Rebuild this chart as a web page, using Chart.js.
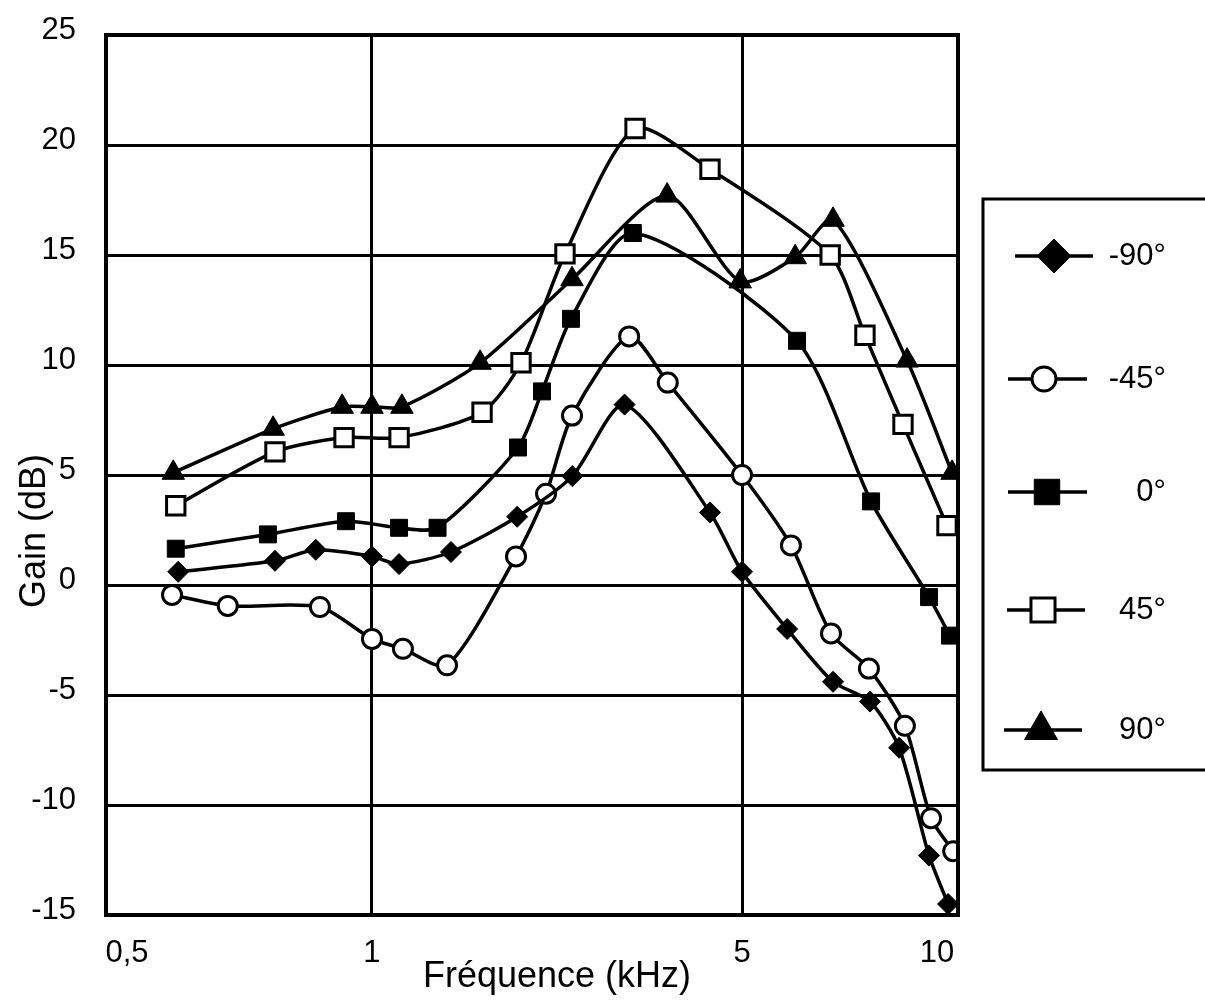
<!DOCTYPE html>
<html lang="fr">
<head>
<meta charset="utf-8">
<title>Gain en fonction de la fréquence</title>
<script src="https://cdn.jsdelivr.net/npm/chart.js@4.4.1/dist/chart.umd.min.js"></script>
<style>
    html, body { margin: 0; padding: 0; background: #fff; }
    #wrap { width: 1205px; height: 1001px; }
</style>
</head>
<body>
<div id="wrap"><canvas id="gainChart" width="1205" height="1001"></canvas></div>
<script>
// --- Données (fréquence en kHz, gain en dB) ---
const freqM90 = [0.578, 0.76, 0.853, 1.0, 1.125, 1.41, 1.88, 2.39, 3.0, 4.35, 5.0, 5.87, 6.91, 7.88, 8.74, 9.72, 10.4];
const gainM90 = [0.6, 1.1, 1.6, 1.3, 0.95, 1.5, 3.1, 4.95, 8.2, 3.3, 0.6, -2.0, -4.4, -5.3, -7.4, -12.3, -14.5];

const freqM45 = [0.568, 0.665, 0.863, 1.0, 1.144, 1.386, 1.871, 2.132, 2.387, 3.06, 3.62, 5.0, 5.95, 6.86, 7.85, 8.92, 9.79, 10.59];
const gainM45 = [-0.45, -0.95, -1.0, -2.45, -2.9, -3.65, 1.3, 4.15, 7.7, 11.3, 9.2, 5.0, 1.8, -2.2, -3.8, -6.4, -10.6, -12.1];

const freq0 = [0.574, 0.745, 0.929, 1.125, 1.33, 1.887, 2.095, 2.376, 3.11, 6.08, 7.91, 9.72, 10.47];
const gain0 = [1.65, 2.3, 2.9, 2.6, 2.6, 6.25, 8.8, 12.1, 16.0, 11.1, 3.8, -0.55, -2.3];

const freqP45 = [0.574, 0.76, 0.924, 1.125, 1.614, 1.912, 2.315, 3.14, 4.35, 6.84, 7.74, 8.86, 10.36];
const gainP45 = [3.6, 6.05, 6.7, 6.7, 7.85, 10.1, 15.05, 20.75, 18.9, 15.0, 11.35, 7.3, 2.7];

const freqP90 = [0.57, 0.756, 0.919, 1.0, 1.139, 1.6, 2.387, 3.61, 4.96, 6.04, 6.91, 8.99, 10.55];
const gainP90 = [5.1, 7.1, 8.1, 8.1, 8.1, 10.1, 13.9, 17.7, 13.8, 14.9, 16.6, 10.2, 5.1];

const angles = ['-90°', '-45°', '0°', '45°', '90°'];
const xTickFreqs = [0.5, 1, 5, 10];
const xTickLabels = ['0,5', '1', '5', '10'];

// --- Axe des fréquences : échelle log par morceaux (comme sur la figure) ---
const AXE_FREQ = [0.5, 1, 5, 10];
const AXE_POS = [0.0246, 0.3122, 0.7465, 0.9754];

function versAxe(f) {
    let i = 0;
    while (i < AXE_FREQ.length - 2 && f > AXE_FREQ[i + 1]) i++;
    const a = Math.log(AXE_FREQ[i]);
    const b = Math.log(AXE_FREQ[i + 1]);
    return AXE_POS[i] + (Math.log(f) - a) / (b - a) * (AXE_POS[i + 1] - AXE_POS[i]);
}

const FONT = '"Liberation Sans", Arial, Helvetica, sans-serif';
Chart.defaults.font.family = FONT;
Chart.defaults.color = '#000';

const series = [
    { freq: freqM90, gain: gainM90, style: 'rectRot', r: 10.5, fond: '#000', bord: 1 },
    { freq: freqM45, gain: gainM45, style: 'circle', r: 9.5, fond: '#fff', bord: 3 },
    { freq: freq0, gain: gain0, style: 'rect', r: 12, fond: '#000', bord: 1 },
    { freq: freqP45, gain: gainP45, style: 'rect', r: 13, fond: '#fff', bord: 3 },
    { freq: freqP90, gain: gainP90, style: 'triangle', r: 13, fond: '#000', bord: 1 }
];

const datasets = series.map((s, k) => ({
    label: angles[k],
    data: s.freq.map((f, i) => ({ x: versAxe(f), y: s.gain[i] })),
    borderColor: '#000',
    borderWidth: 3.5,
    tension: 0.25,
    fill: false,
    pointStyle: s.style,
    pointRadius: s.r,
    pointBackgroundColor: s.fond,
    pointBorderColor: '#000',
    pointBorderWidth: s.bord
}));

// --- Cadre, titres des axes et légende dessinés à la main ---
const legendeLignes = [
    { y: 256, x1: 1015, x2: 1093, xm: 1054, r: 17 },
    { y: 379, x1: 1008, x2: 1087, xm: 1044, r: 12 },
    { y: 492, x1: 1008, x2: 1087, xm: 1047, r: 18 },
    { y: 610, x1: 1007, x2: 1085, xm: 1043, r: 17 },
    { y: 730, x1: 1004, x2: 1082, xm: 1041, r: 19 }
];

const cadrePlugin = {
    id: 'cadre',
    afterDraw(chart) {
        const { ctx, chartArea: a } = chart;
        ctx.save();
        ctx.strokeStyle = '#000';
        ctx.fillStyle = '#000';
        ctx.lineWidth = 4;
        ctx.strokeRect(a.left, a.top, a.right - a.left, a.bottom - a.top);

        // titres
        ctx.font = '36px ' + FONT;
        ctx.textAlign = 'center';
        ctx.textBaseline = 'middle';
        ctx.fillText('Fréquence (kHz)', 557, 977);
        ctx.save();
        ctx.translate(35, 531);
        ctx.rotate(-Math.PI / 2);
        ctx.fillText('Gain (dB)', 0, 0);
        ctx.restore();

        // légende
        ctx.lineWidth = 3;
        ctx.strokeRect(983, 199, 300, 571);
        ctx.font = '31px ' + FONT;
        ctx.textAlign = 'right';
        legendeLignes.forEach((l, k) => {
            const s = series[k];
            ctx.lineWidth = 3.5;
            ctx.strokeStyle = '#000';
            ctx.beginPath();
            ctx.moveTo(l.x1, l.y);
            ctx.lineTo(l.x2, l.y);
            ctx.stroke();
            ctx.fillStyle = s.fond;
            ctx.lineWidth = s.bord;
            Chart.helpers.drawPoint(ctx, { pointStyle: s.style, radius: l.r, rotation: 0, borderWidth: s.bord }, l.xm, l.y);
            ctx.fillStyle = '#000';
            ctx.fillText(angles[k], 1166, l.y);
        });
        ctx.restore();
    }
};

new Chart(document.getElementById('gainChart'), {
    type: 'line',
    data: { datasets },
    plugins: [cadrePlugin],
    options: {
        responsive: false,
        animation: false,
        devicePixelRatio: 1,
        layout: { padding: { top: 35, right: 247, left: 0, bottom: 0 } },
        plugins: {
            legend: { display: false },
            tooltip: { enabled: false }
        },
        scales: {
            x: {
                type: 'linear',
                min: 0,
                max: 1,
                afterBuildTicks: axe => {
                    axe.ticks = xTickFreqs.map(f => ({ value: versAxe(f) }));
                },
                afterFit: axe => {
                    axe.height = 86;
                    axe.paddingLeft = 0;
                    axe.paddingRight = 0;
                },
                ticks: {
                    callback: (val, i) => xTickLabels[i],
                    font: { size: 31 },
                    padding: 20,
                    maxRotation: 0,
                    autoSkip: false
                },
                grid: {
                    drawTicks: false,
                    lineWidth: 3,
                    color: ctx => (ctx.index === 1 || ctx.index === 2) ? '#000' : 'rgba(0,0,0,0)'
                },
                border: { display: false }
            },
            y: {
                min: -15,
                max: 25,
                afterFit: axe => {
                    axe.width = 106;
                    axe.paddingTop = 0;
                    axe.paddingBottom = 0;
                },
                ticks: {
                    stepSize: 5,
                    font: { size: 31 },
                    padding: 30,
                    labelOffset: -5
                },
                grid: { drawTicks: false, lineWidth: 3, color: '#000' },
                border: { display: false }
            }
        }
    }
});
</script>
</body>
</html>
